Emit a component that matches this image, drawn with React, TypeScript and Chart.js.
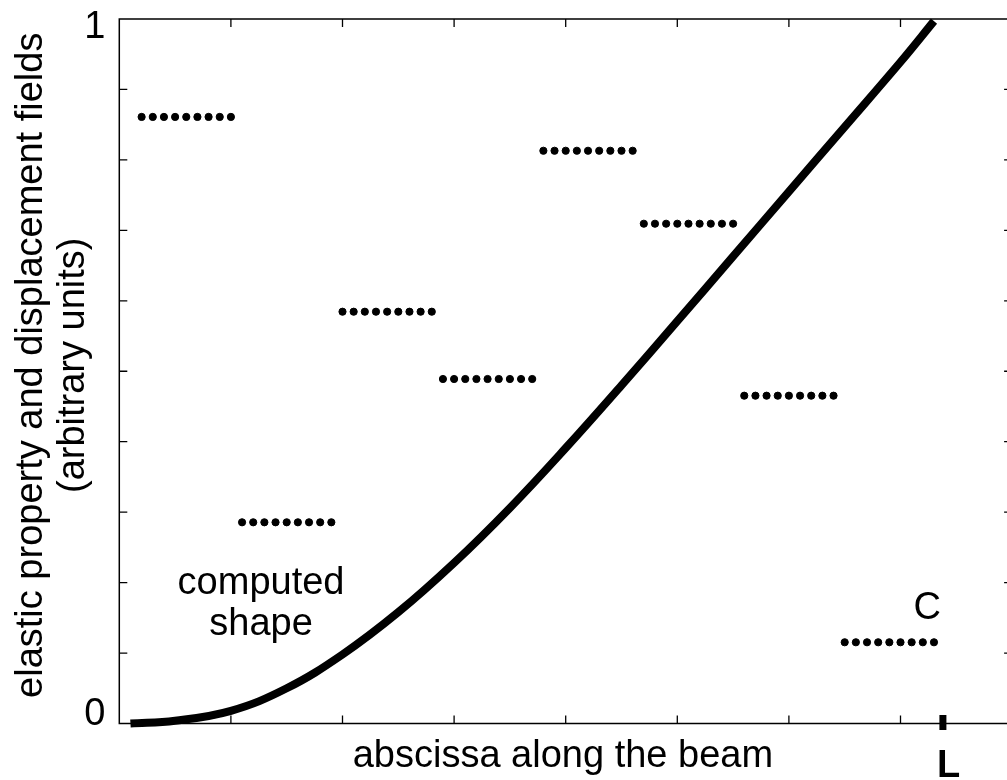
import React, { useEffect, useRef } from "react";
import { Chart, registerables } from "chart.js";

Chart.register(...registerables);

// ---------- data ----------
const X_MIN = 0;
const X_MAX = 8;
const Y_MIN = 0;
const Y_MAX = 1;
const X_TICKS = [1, 2, 3, 4, 5, 6, 7];
const Y_TICKS = [0.1, 0.2, 0.3, 0.4, 0.5, 0.6, 0.7, 0.8, 0.9];
const Y_LABEL_VALUES = [0, 1];
const Y_LABEL_TEXTS = ["0", "1"];

// computed shape (thick curve)
const CURVE_X = [0.1, 0.5, 1.0, 1.5, 2.0, 2.5, 3.0, 3.5, 4.0, 4.5, 5.0, 5.5, 6.0, 6.5, 7.0, 7.3];
const CURVE_Y = [0, 0.004, 0.018, 0.05, 0.098, 0.158, 0.228, 0.306, 0.391, 0.48, 0.571, 0.663, 0.755, 0.847, 0.939, 0.997];

// elastic property per element (dotted segments)
const ELEMENT_START = [0.2, 1.1, 2.0, 2.9, 3.8, 4.7, 5.6, 6.5];
const ELEMENT_VALUE = [0.861, 0.2856, 0.5845, 0.489, 0.813, 0.7094, 0.4653, 0.1153];
const DOT_OFFSETS = [0, 0.1, 0.2, 0.3, 0.4, 0.5, 0.6, 0.7, 0.8];

// annotations
const L_POSITION = 7.38;
const SHAPE_LABEL = { x: 1.27, lines: ["computed", "shape"], yBaselines: [0.1838, 0.125] };
const C_LABEL = { x: 7.24, y: 0.148, text: "C" };
const X_TITLE = { x: 3.975, text: "abscissa along the beam" };
const Y_TITLE = ["elastic property and displacement fields", "(arbitrary units)"];

const FONT = '"Liberation Sans", Arial, Helvetica, sans-serif';

const framePlugin = {
  id: "beamFrame",
  beforeDatasetsDraw(chart: any) {
    const { ctx, chartArea: a, scales } = chart;
    const x = scales.x;
    const y = scales.y;
    ctx.save();
    ctx.strokeStyle = "#000";
    ctx.lineWidth = 1.5;
    ctx.strokeRect(a.left, a.top, a.right - a.left, a.bottom - a.top);
    ctx.lineWidth = 1.3;
    const TL = 8;
    ctx.beginPath();
    for (const t of X_TICKS) {
      const px = x.getPixelForValue(t);
      ctx.moveTo(px, a.bottom);
      ctx.lineTo(px, a.bottom - TL);
      ctx.moveTo(px, a.top);
      ctx.lineTo(px, a.top + TL);
    }
    for (const t of Y_TICKS) {
      const py = y.getPixelForValue(t);
      ctx.moveTo(a.left, py);
      ctx.lineTo(a.left + TL, py);
      ctx.moveTo(a.right, py);
      ctx.lineTo(a.right - TL, py);
    }
    ctx.stroke();
    ctx.restore();
  },
  afterDraw(chart: any) {
    const { ctx, chartArea: a, scales } = chart;
    const x = scales.x;
    const y = scales.y;
    ctx.save();
    ctx.fillStyle = "#000";

    // y tick labels
    ctx.font = `38px ${FONT}`;
    ctx.textAlign = "right";
    ctx.textBaseline = "middle";
    Y_LABEL_VALUES.forEach((v, i) => {
      const py = y.getPixelForValue(v) + (v === 0 ? -9 : 9);
      ctx.fillText(Y_LABEL_TEXTS[i], a.left - 14, py);
    });

    // L marker
    const lx = x.getPixelForValue(L_POSITION);
    ctx.fillRect(lx - 3.5, a.bottom - 8.5, 7, 15);
    ctx.font = `bold 38px ${FONT}`;
    ctx.textAlign = "left";
    ctx.textBaseline = "alphabetic";
    ctx.fillText("L", lx - 6, 777);

    // annotations
    ctx.font = `38px ${FONT}`;
    ctx.textAlign = "center";
    SHAPE_LABEL.lines.forEach((t, i) => {
      ctx.fillText(t, x.getPixelForValue(SHAPE_LABEL.x), y.getPixelForValue(SHAPE_LABEL.yBaselines[i]));
    });
    ctx.fillText(C_LABEL.text, x.getPixelForValue(C_LABEL.x), y.getPixelForValue(C_LABEL.y));

    // x title
    ctx.fillText(X_TITLE.text, x.getPixelForValue(X_TITLE.x), 767);

    // y title (rotated)
    const cy = (a.top + a.bottom) / 2 - 6;
    const baselines = [42, 84];
    Y_TITLE.forEach((t, i) => {
      ctx.save();
      ctx.translate(baselines[i], cy);
      ctx.rotate(-Math.PI / 2);
      ctx.textAlign = "center";
      ctx.textBaseline = "alphabetic";
      ctx.fillText(t, 0, 0);
      ctx.restore();
    });
    ctx.restore();
  },
};

export default function App() {
  const canvasRef = useRef<HTMLCanvasElement | null>(null);

  useEffect(() => {
    const canvas = canvasRef.current;
    if (!canvas) return;

    const elementDatasets = ELEMENT_START.map((s, i) => ({
      type: "scatter" as const,
      label: `element ${i + 1}`,
      data: DOT_OFFSETS.map((o) => ({ x: s + o, y: ELEMENT_VALUE[i] })),
      pointRadius: 3.6,
      pointBackgroundColor: "#000",
      pointBorderWidth: 1,
      pointBorderColor: "#000",
      showLine: false,
      clip: false as any,
    }));

    const chart = new Chart(canvas, {
      type: "scatter",
      data: {
        datasets: [
          {
            type: "line" as const,
            label: "computed shape",
            data: CURVE_X.map((v, i) => ({ x: v, y: CURVE_Y[i] })),
            borderColor: "#000",
            borderWidth: 8,
            pointRadius: 0,
            tension: 0.4,
            cubicInterpolationMode: "default",
            borderCapStyle: "butt",
            borderJoinStyle: "round",
            fill: false,
            clip: false as any,
          } as any,
          ...elementDatasets,
        ],
      },
      options: {
        responsive: false,
        animation: false,
        devicePixelRatio: 1,
        layout: {
          autoPadding: false,
          padding: { left: 119.3, top: 19, right: 17.9, bottom: 56.5 },
        },
        plugins: {
          legend: { display: false },
          tooltip: { enabled: false },
          title: { display: false },
        },
        scales: {
          x: { type: "linear", min: X_MIN, max: X_MAX, display: false },
          y: { type: "linear", min: Y_MIN, max: Y_MAX, display: false },
        },
      } as any,
      plugins: [framePlugin],
    });

    return () => chart.destroy();
  }, []);

  return (
    <div
      style={{
        position: "fixed",
        left: 0,
        top: 0,
        width: 1007,
        height: 780,
        overflow: "hidden",
        background: "#fff",
      }}
    >
      <canvas ref={canvasRef} width={1030} height={780} style={{ display: "block" }} />
    </div>
  );
}
